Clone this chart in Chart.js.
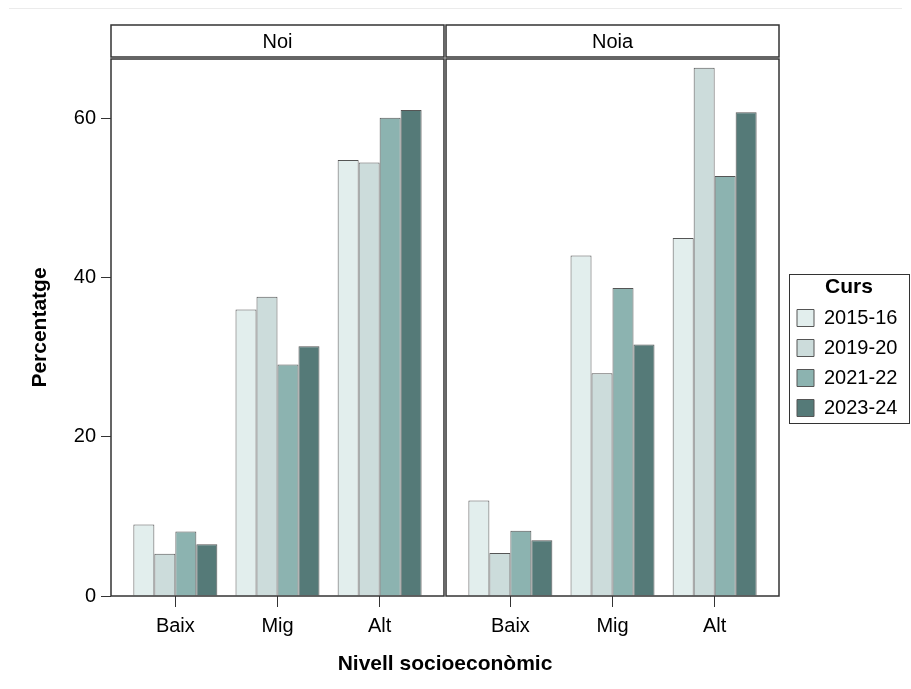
<!DOCTYPE html>
<html lang="ca">
<head>
<meta charset="UTF-8">
<title>Percentatge per nivell socioeconòmic</title>
<script src="https://cdn.jsdelivr.net/npm/chart.js"></script>
<style>
  body { margin: 0; background: #fff; }
  #wrap { position: relative; width: 911px; height: 689px; }
  #wrap::before { content: ''; position: absolute; left: 9px; right: 9px; top: 8px; border-top: 1px solid #ebebeb; }
</style>
</head>
<body>
<div id="wrap"><canvas id="chart" width="911" height="689"></canvas></div>
<script>
const categories = ['Baix', 'Mig', 'Alt'];
const panels = ['Noi', 'Noia'];
const cursos = ['2015-16', '2019-20', '2021-22', '2023-24'];
// one row per curs, one column per category
const noi = [
  [9.0, 36.0, 54.8],
  [5.3, 37.6, 54.5],
  [8.1, 29.1, 60.1],
  [6.5, 31.4, 61.1]
];
const noia = [
  [12.0, 42.8, 45.0],
  [5.4, 28.0, 66.4],
  [8.2, 38.7, 52.8],
  [7.0, 31.6, 60.8]
];
const yTicks = [0, 20, 40, 60];
const colors = ['#e2eeed', '#ccdcdb', '#8cb3b0', '#557a78'];

const FONT = '"Liberation Sans", Arial, sans-serif';
Chart.defaults.font.family = FONT;
Chart.defaults.color = '#000';

// both panels share one linear x axis: categories sit at whole steps,
// the second panel is shifted right by one panel width plus a small gap
const PAD = 0.63, GAP = 0.02;
const panelSpan = categories.length - 1 + 2 * PAD;
const panelStart = panels.map((p, i) => 1 - PAD + i * (panelSpan + GAP));
const xPos = panels.flatMap((p, i) => categories.map((c, j) => panelStart[i] + PAD + j));
const xMin = panelStart[0];
const xMax = panelStart[panels.length - 1] + panelSpan;

const datasets = cursos.map((c, k) => ({
  label: c,
  data: [...noi[k], ...noia[k]].map((v, i) => ({ x: xPos[i], y: v })),
  backgroundColor: colors[k],
  borderColor: '#555',
  borderWidth: 1,
  categoryPercentage: 0.822,
  barPercentage: 1
}));

// panel frames, strip titles and the legend box
const facetPlugin = {
  id: 'facets',
  afterLayout(chart) {
    const lg = chart.legend;
    lg.left = 787;
    lg.right = 911;
    lg.width = 124;
    lg.top = 277;
    lg.bottom = 600;
  },
  afterDatasetsDraw(chart) {
    const { ctx, chartArea: { top, bottom }, scales: { x } } = chart;
    ctx.save();
    ctx.strokeStyle = '#333';
    ctx.lineWidth = 1.5;
    panels.forEach((name, i) => {
      const l = x.getPixelForValue(panelStart[i]);
      const r = x.getPixelForValue(panelStart[i] + panelSpan);
      ctx.strokeRect(l, top, r - l, bottom - top);
      ctx.fillStyle = '#fff';
      ctx.fillRect(l, top - 34, r - l, 32);
      ctx.strokeRect(l, top - 34, r - l, 32);
      ctx.fillStyle = '#000';
      ctx.font = '20px ' + FONT;
      ctx.textAlign = 'center';
      ctx.textBaseline = 'middle';
      ctx.fillText(name, (l + r) / 2, top - 17);
    });
    ctx.restore();
  },
  afterDraw(chart) {
    const lg = chart.legend;
    const ctx = chart.ctx;
    ctx.save();
    ctx.strokeStyle = '#333';
    ctx.lineWidth = 1;
    ctx.strokeRect(lg.left + 2.5, lg.top - 2.5, 120, 149);
    ctx.restore();
  }
};

new Chart(document.getElementById('chart'), {
  type: 'bar',
  data: { datasets },
  options: {
    responsive: false,
    animation: false,
    layout: { padding: { top: 59, right: 32, bottom: 0, left: 0 } },
    plugins: {
      tooltip: { enabled: false },
      legend: {
        position: 'right',
        align: 'start',
        maxWidth: 100,
        title: {
          display: true,
          text: 'Curs',
          position: 'center',
          padding: 0,
          font: { size: 21, weight: 'bold', lineHeight: 1 }
        },
        labels: {
          boxWidth: 17,
          boxHeight: 17,
          padding: 10,
          color: '#000',
          font: { size: 20 }
        }
      }
    },
    scales: {
      x: {
        type: 'linear',
        min: xMin,
        max: xMax,
        offset: false,
        afterBuildTicks: s => { s.ticks = xPos.map(v => ({ value: v })); },
        afterFit: s => { s.height = 93; },
        ticks: {
          autoSkip: false,
          maxRotation: 0,
          padding: 7,
          font: { size: 20 },
          callback: (v, i) => categories[i % categories.length]
        },
        grid: { offset: false, drawOnChartArea: false, tickLength: 11, color: '#333' },
        border: { display: false },
        title: {
          display: true,
          text: 'Nivell socioeconòmic',
          font: { size: 21, weight: 'bold' },
          padding: { top: 0, bottom: 12 }
        }
      },
      y: {
        min: 0,
        max: 67.5,
        afterBuildTicks: s => { s.ticks = yTicks.map(v => ({ value: v })); },
        afterFit: s => { s.width = 111; },
        ticks: { padding: 5, font: { size: 20 } },
        grid: { drawOnChartArea: false, tickLength: 10, color: '#333' },
        border: { display: false },
        title: {
          display: true,
          text: 'Percentatge',
          font: { size: 21, weight: 'bold' },
          padding: { top: 28, bottom: 0 }
        }
      }
    }
  },
  plugins: [facetPlugin]
});
</script>
</body>
</html>
